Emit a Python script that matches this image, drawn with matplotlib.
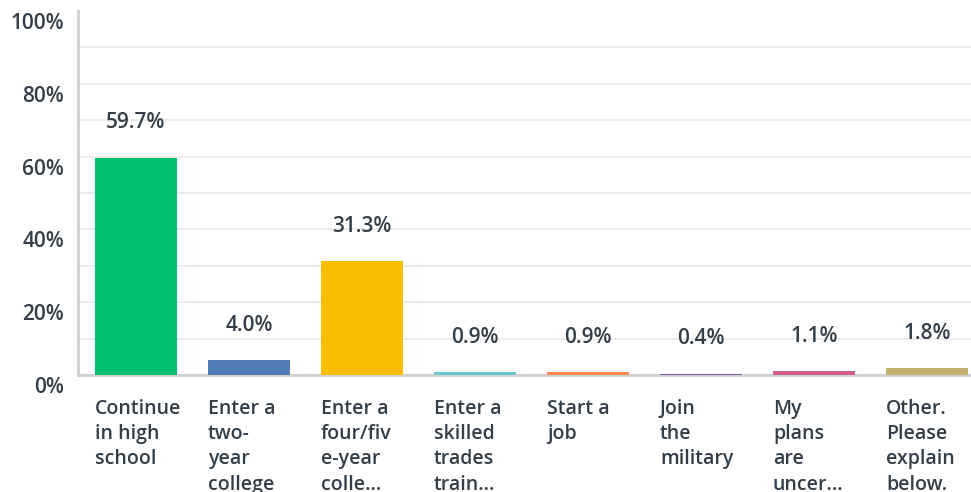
import numpy as np
import matplotlib.pyplot as plt
from matplotlib import transforms

categories = ["Continue\nin high\nschool", "Enter a\ntwo-\nyear\ncollege", "Enter a\nfour/fiv\ne-year\ncolle...",
              "Enter a\nskilled\ntrades\ntrain...", "Start a\njob", "Join\nthe\nmilitary",
              "My\nplans\nare\nuncer...", "Other.\nPlease\nexplain\nbelow."]
values = [59.7, 4.0, 31.3, 0.9, 0.9, 0.4, 1.1, 1.8]
colors = ["#00BF6F", "#507CB6", "#F9BE00", "#6BC8CD", "#FF8B4F", "#7D5BA6", "#D25F90", "#C4B16F"]
yticks = [0, 20, 40, 60, 80, 100]

txt = "#333e48"
plt.rcParams['font.family'] = ['Open Sans', 'DejaVu Sans']

fig = plt.figure(figsize=(9.71, 4.92), dpi=100)
ax = fig.add_axes([78 / 971, 117 / 492, 1 - 78 / 971, 364 / 492])

x = np.arange(len(values))
w = 0.726
ax.bar(x, values, width=w, color=colors, zorder=3)

ax.set_xlim(-0.513, 7.39)
ax.set_ylim(0, 100)

for g in range(10, 100, 10):
    ax.axhline(g, color="#ececec", lw=1.5, zorder=1)

for s in ["top", "right"]:
    ax.spines[s].set_visible(False)
ax.spines["left"].set_color("#d0d0d0")
ax.spines["bottom"].set_color("#d0d0d0")
ax.spines["left"].set_linewidth(2)
ax.spines["bottom"].set_linewidth(2)

ax.set_xticks([])
ax.set_yticks(yticks)
ax.set_yticklabels([f"{t}%" for t in yticks], fontsize=15, color=txt, fontweight="semibold")
ax.tick_params(axis="y", length=0, pad=10)
off = transforms.ScaledTranslation(0, -10 / 100, fig.dpi_scale_trans)
for lab in ax.get_yticklabels():
    lab.set_transform(lab.get_transform() + off)

for xi, v in zip(x, values):
    ax.annotate(f"{v:.1f}%", (xi, v), xytext=(0, 25), textcoords="offset points",
                ha="center", va="center", fontsize=15, color=txt, fontweight="semibold")

trans = transforms.blended_transform_factory(ax.transData, ax.transAxes)
for xi, c in zip(x, categories):
    ax.text(xi - w / 2, -0.065, c, transform=trans, ha="left", va="top",
            fontsize=14, color=txt, fontweight="semibold", linespacing=1.36)

fig.savefig("out.png", dpi=100)
